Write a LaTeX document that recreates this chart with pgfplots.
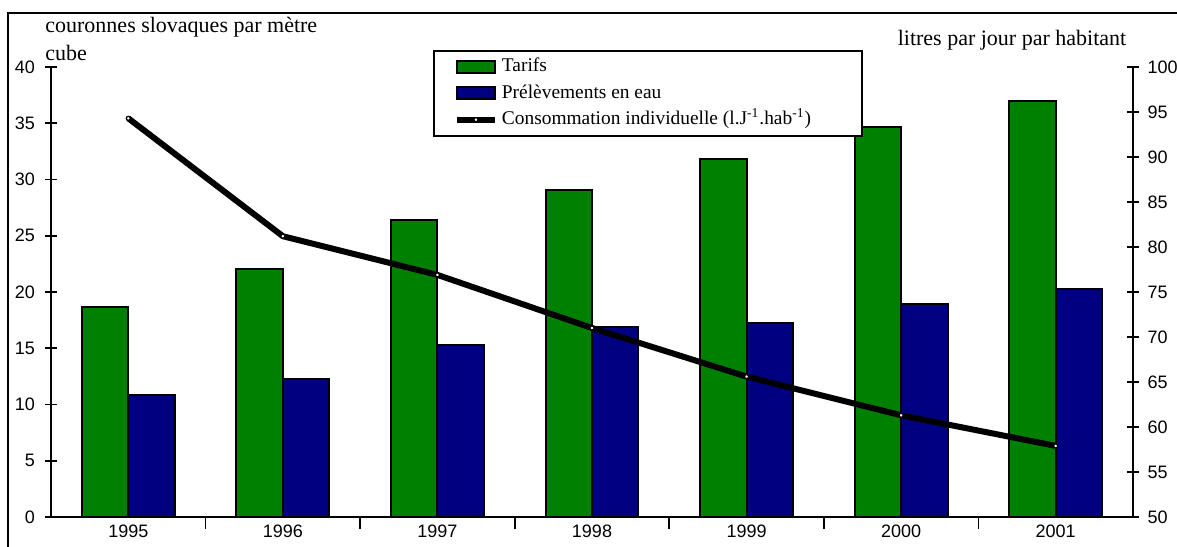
\documentclass[border=0pt]{standalone}
\usepackage{pgfplots}
\usepackage{pgfplotstable}
\pgfplotsset{compat=1.18}
\usepackage{fontspec}
\setmainfont{Liberation Serif}
\newfontfamily\numfont{Liberation Sans}
\definecolor{tgreen}{RGB}{0,128,0}
\definecolor{tblue}{RGB}{0,0,128}

% year index, tarifs (SKK/m3), prelevements (SKK/m3), consommation (l/j/hab)
\pgfplotstableread{
x tarifs prelev conso
0 18.7 10.8 94.3
1 22.0 12.3 81.2
2 26.4 15.3 76.9
3 29.1 16.9 71.0
4 31.8 17.2 65.6
5 34.7 18.9 61.3
6 37.0 20.3 57.9
}\datatable

\pgfplotsset{
  common/.style={
    width=541pt, height=225pt, scale only axis,
    xmin=-0.5, xmax=6.5,
    ticklabel style={font=\numfont\fontsize{9}{10}\selectfont},
    /pgf/number format/assume math mode=true,
    axis line style={line width=1pt, -},
    tick align=center,
    major tick length=6pt, minor tick length=6pt,
    tick style={black, line width=0.8pt},
  },
  barlegend/.style={legend image code/.code={\draw[##1] (0pt,-3pt) rectangle (19pt,3pt);}},
  linelegend/.style={legend image code/.code={%
    \draw[mark repeat=2, mark phase=2, ##1] plot coordinates {(0pt,0pt) (9.5pt,0pt) (19pt,0pt)};}},
}

\begin{document}
\begin{tikzpicture}
\begin{axis}[common,
  ymin=0, ymax=40, ytick distance=5,
  axis x line*=bottom, axis y line*=left,
  xtick={0,...,6}, xticklabels={1995,1996,1997,1998,1999,2000,2001},
  major x tick style={draw=none},
  minor xtick={0.5,1.5,...,5.5},
  yticklabel style={anchor=east, xshift=-1.5pt},
  xticklabel style={yshift=5.5pt},
  ybar=0pt, bar width=0.3,
]
\addplot[fill=tgreen, draw=black, line width=1pt] table[x=x, y=tarifs] {\datatable};
\addplot[fill=tblue, draw=black, line width=1pt] table[x=x, y=prelev] {\datatable};
\end{axis}

\begin{axis}[common,
  ymin=50, ymax=100, ytick distance=5,
  axis y line*=right, axis x line=none,
  yticklabel style={anchor=west, xshift=0.8pt},
  legend cell align=left,
  legend style={at={(0.353,1.038)}, anchor=north west, draw=black, line width=1pt,
    font=\fontsize{9.7}{12}\selectfont, inner xsep=10pt, inner ysep=2pt, row sep=1.2pt,
    nodes={inner ysep=1pt, text height=7.5pt, text depth=2.5pt}},
]
\addlegendimage{barlegend, fill=tgreen, draw=black, line width=1pt}
\addlegendentry[text width=168pt]{Tarifs}
\addlegendimage{barlegend, fill=tblue, draw=black, line width=1pt}
\addlegendentry{Prélèvements en eau}
\addplot[linelegend, black, line width=3pt, mark=*, mark size=1pt,
  mark options={fill=white, draw=black, line width=0.6pt}]
  table[x=x, y=conso] {\datatable};
\addlegendentry{Consommation individuelle (l.J\textsuperscript{-1}.hab\textsuperscript{-1})}
\end{axis}

\draw[line width=1pt] (-21.5pt,-30pt) -- (-21.5pt,252pt) -- (580pt,252pt);
\node[anchor=base west, inner sep=0pt, font=\fontsize{11}{13}\selectfont] at (-3pt,242pt) {couronnes slovaques par mètre};
\node[anchor=base west, inner sep=0pt, font=\fontsize{11}{13}\selectfont] at (-3pt,228pt) {cube};
\node[anchor=base, inner sep=0pt, font=\fontsize{11}{13}\selectfont] at (480.5pt,235.5pt) {litres par jour par habitant};

\pgfresetboundingbox
\path[use as bounding box] (-25.5pt,-14.5pt) rectangle (563pt,258.5pt);
\end{tikzpicture}
\end{document}
